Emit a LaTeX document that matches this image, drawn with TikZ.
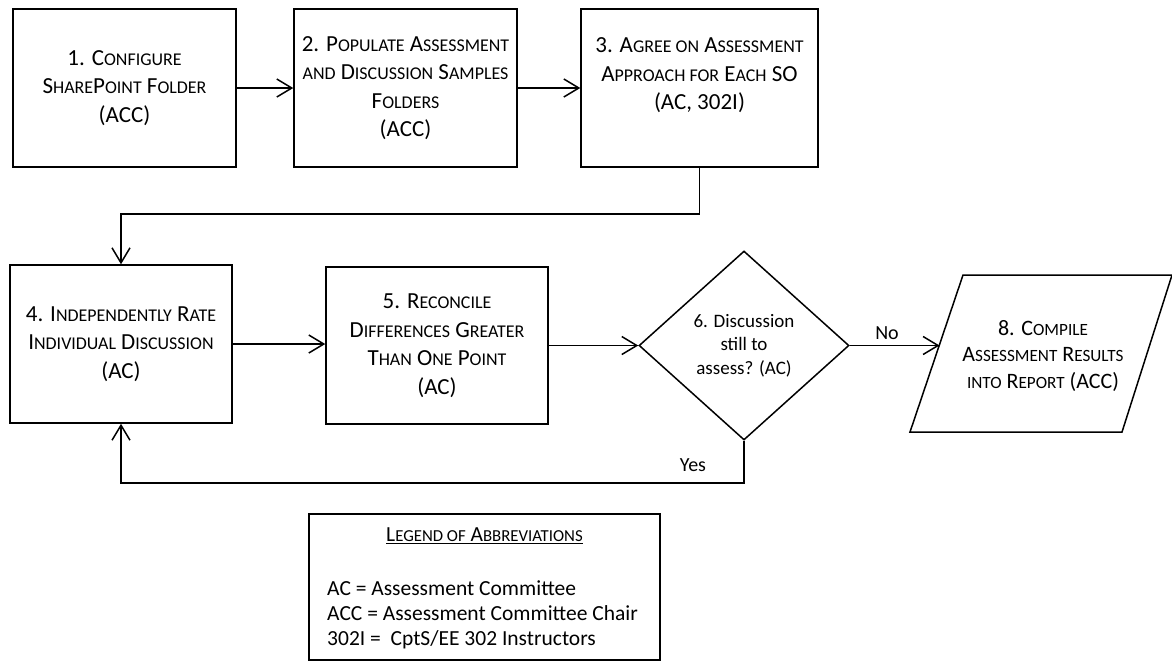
\documentclass[tikz,border=0pt]{standalone}
\usepackage{fontspec}
\setmainfont{Carlito}
\usetikzlibrary{arrows.meta,shapes.geometric}
\makeatletter
\newcommand\sm[1]{{\fontsize{\fpeval{0.78*\f@size}}{\f@baselineskip}\selectfont #1}}
\makeatother
\begin{document}
\begin{tikzpicture}[x=1pt,y=-1pt,
  stepbox/.style={draw, line width=1.5pt, inner sep=0pt, align=center,
    minimum width=223pt, minimum height=158pt, font=\fontsize{23}{28.5}\selectfont},
  conn/.style={line width=1.5pt, -{Straight Barb[length=15pt,width=18pt,line width=1.5pt]}},
  plain/.style={line width=1.5pt},
  lbl/.style={font=\fontsize{20}{24}\selectfont, inner sep=0pt}]
\useasboundingbox (0,0) rectangle (1172,662);

% top row
\node[stepbox] (b1) at (124.5,88)
  {1. C\sm{ONFIGURE}\\S\sm{HARE}P\sm{OINT} F\sm{OLDER}\\(ACC)};
\node[stepbox] (b2) at (405.5,88)
  {2. P\sm{OPULATE} A\sm{SSESSMENT}\\\sm{AND} D\sm{ISCUSSION} S\sm{AMPLES}\\F\sm{OLDERS}\\(ACC)};
\node[stepbox, minimum width=237pt] (b3) at (699.5,88)
  {3. A\sm{GREE ON} A\sm{SSESSMENT}\\A\sm{PPROACH FOR} E\sm{ACH} SO\\(AC, 302I)\\\mbox{}};

% middle row
\node[stepbox, minimum width=222pt] (b4) at (121,344)
  {4. I\sm{NDEPENDENTLY} R\sm{ATE}\\I\sm{NDIVIDUAL} D\sm{ISCUSSION}\\(AC)};
\node[stepbox, minimum width=222pt, minimum height=157pt] (b5) at (437,345.5)
  {5. R\sm{ECONCILE}\\D\sm{IFFERENCES} G\sm{REATER}\\T\sm{HAN} O\sm{NE} P\sm{OINT}\\(AC)};
\node[draw, diamond, line width=1.5pt, inner sep=0pt, minimum width=210pt,
  minimum height=189pt, align=center, font=\fontsize{19}{23.5}\selectfont] (d6) at (744,345.5)
  {6. Discussion\\still to\\assess? (AC)};

% parallelogram
\draw[plain] (910,432) -- (1122,432) -- (1172,275) -- (963,275) -- cycle;
\node[align=center, inner sep=0pt, font=\fontsize{22}{26.5}\selectfont] (p8) at (1043,356)
  {8. C\sm{OMPILE}\\A\sm{SSESSMENT} R\sm{ESULTS}\\\sm{INTO} R\sm{EPORT} (ACC)};
\coordinate (p8in) at (939.5,345.5);

% connectors
\draw[conn] (b1.east) -- (b2.west);
\draw[conn] (b2.east) -- (b3.west);
\draw[conn] (b3.south) -- ++(0,46) -| (b4.north);
\draw[conn] (b4.east) -- (b4.east -| b5.west);
\draw[conn] (b5.east) -- (d6.west);
\draw[conn] (d6.east) -- (p8in);
\draw[conn] (d6.south) -- ++(0,42) -| (b4.south);

\node[lbl] (lblNo) at (887,333) {No};
\node[lbl] (lblYes) at (693,465) {Yes};

% legend
\node[draw, line width=1.5pt, inner sep=0pt, minimum width=351pt, minimum height=146pt] (leg) at (484.5,587) {};
\node[inner sep=0pt, font=\fontsize{21.5}{25}\selectfont] (legT) at (484.5,536)
  {\underline{L\sm{EGEND OF} A\sm{BBREVIATIONS}}};
\node[inner sep=0pt, anchor=west, align=left, font=\fontsize{21.5}{25}\selectfont] (legB) at (327,615)
  {AC = Assessment Committee\\ACC = Assessment Committee Chair\\302I = \ CptS/EE 302 Instructors};
\end{tikzpicture}
\end{document}
